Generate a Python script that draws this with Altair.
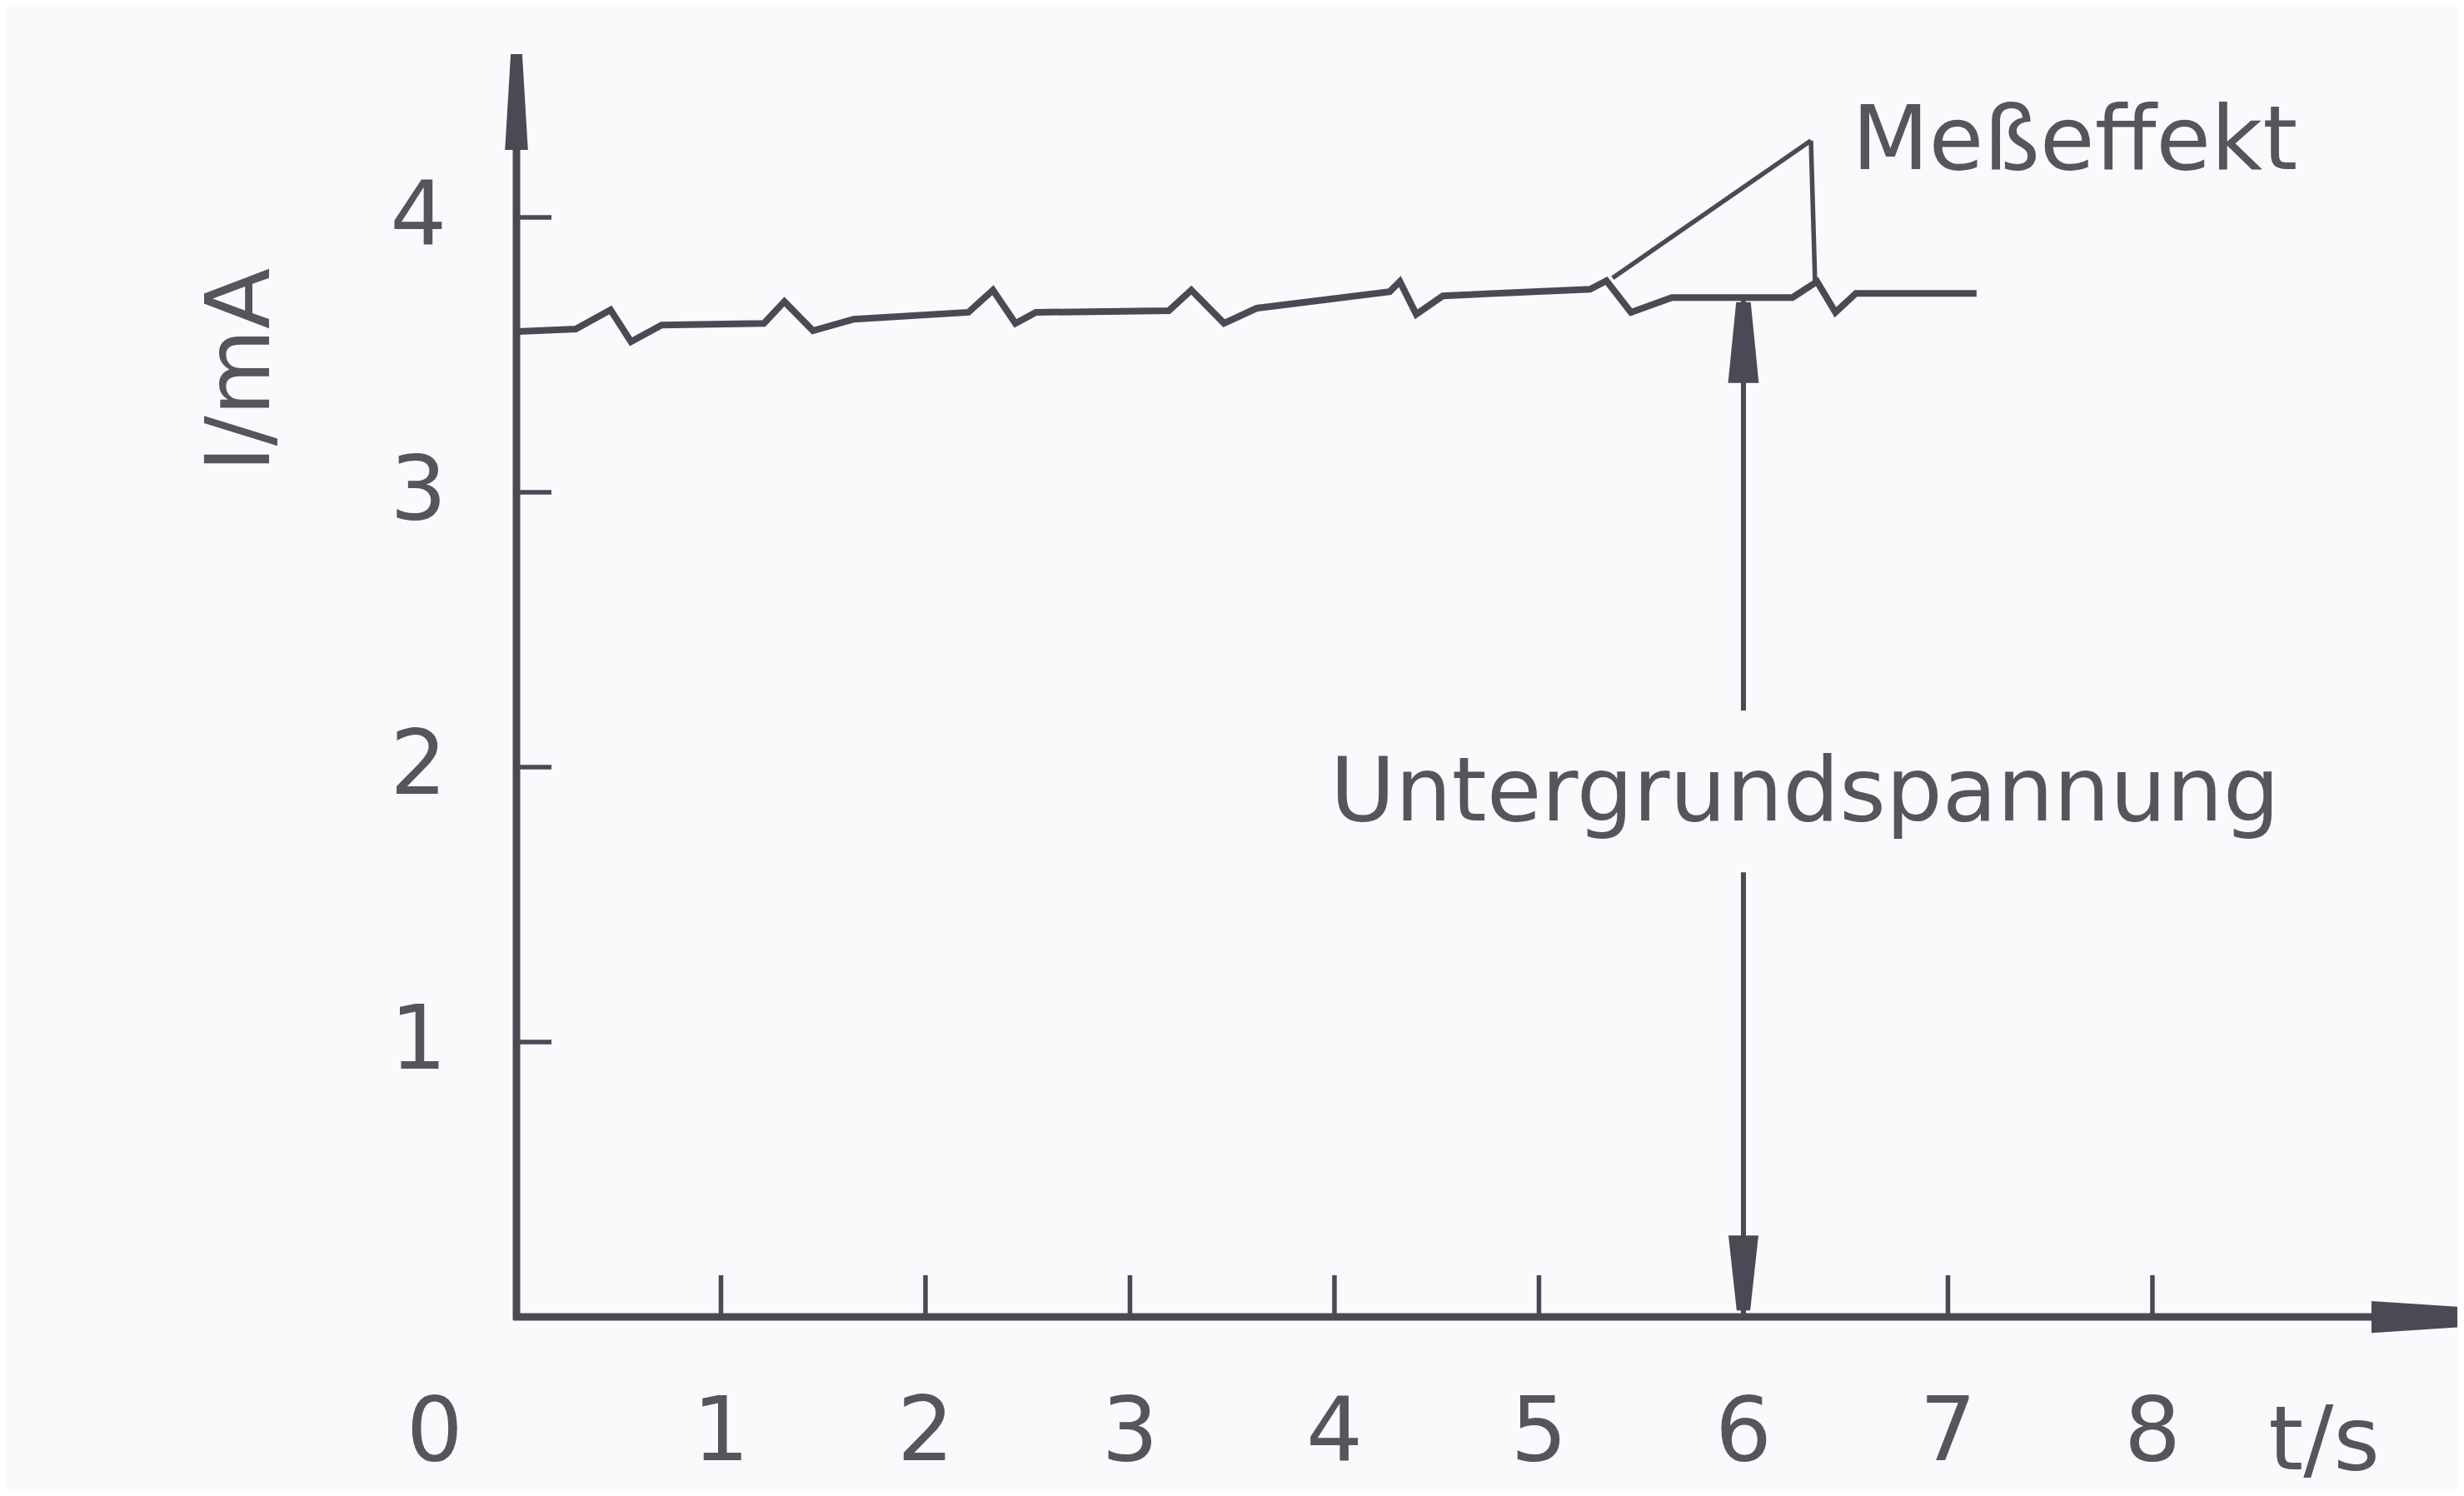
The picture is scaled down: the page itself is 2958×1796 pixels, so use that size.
import altair as alt
import pandas as pd

# ---------------- data ----------------
t_s = [0.01, 0.29, 0.46, 0.56, 0.71, 1.21, 1.31, 1.45, 1.65, 2.21, 2.33, 2.44,
       2.54, 3.19, 3.30, 3.46, 3.62, 4.27, 4.32, 4.40, 4.53, 5.25, 5.33, 5.45,
       5.65, 6.24, 6.36, 6.45, 6.55, 7.14]
i_mA = [3.585, 3.594, 3.664, 3.548, 3.609, 3.615, 3.694, 3.588, 3.630, 3.655,
        3.736, 3.615, 3.655, 3.661, 3.736, 3.615, 3.670, 3.730, 3.767, 3.648,
        3.715, 3.739, 3.770, 3.655, 3.709, 3.709, 3.767, 3.655, 3.724, 3.724]

x_tick_values = [1, 2, 3, 4, 5, 6, 7, 8]
x_tick_labels = ["1", "2", "3", "4", "5", "6", "7", "8"]
y_tick_values = [1, 2, 3, 4]
y_tick_labels = ["1", "2", "3", "4"]
origin_label = "0"
x_title = "t/s"
y_title = "I/mA"
peak_label = "Meßeffekt"
base_label = "Untergrundspannung"

# annotated peaks (t, I) and the apex of the "Meßeffekt" leader lines
peak_t = [5.36, 6.35]
peak_i = [3.78, 3.77]
apex_t, apex_i = 6.33, 4.28
# double arrow "Untergrundspannung"
base_t = 6.0
base_top_i = 3.70

# ---------------- layout / style ----------------
W, H = 2942, 1780
X_DOMAIN = [-2.493, 9.491]
Y_DOMAIN = [-0.627, 4.767]
INK = "#4a4a55"
TEXT = "#55555c"
BG = "#f9fafc"
FONT = "DejaVu Sans"
FS = 107
TICK_X = 0.171   # y-axis tick length in t units
TICK_Y = 0.152   # x-axis tick length in I units

xs = alt.Scale(domain=X_DOMAIN, nice=False, zero=False)
ys = alt.Scale(domain=Y_DOMAIN, nice=False, zero=False)


def X(f):
    return alt.X(f, type="quantitative", scale=xs, axis=None)


def Y(f):
    return alt.Y(f, type="quantitative", scale=ys, axis=None)


# axes lines
axes_df = pd.DataFrame({
    "x": [0.0, -0.015], "x2": [0.0, 9.25],
    "y": [-0.01, 0.0], "y2": [4.40, 0.0],
})
axes = alt.Chart(axes_df).mark_rule(color=INK, strokeWidth=9).encode(
    x=X("x"), x2="x2", y=Y("y"), y2="y2")

# ticks
yt_df = pd.DataFrame({"y": y_tick_values, "x": [0.0] * len(y_tick_values),
                      "x2": [TICK_X] * len(y_tick_values)})
yticks = alt.Chart(yt_df).mark_rule(color=INK, strokeWidth=5.5).encode(
    x=X("x"), x2="x2", y=Y("y"))
xt_df = pd.DataFrame({"x": x_tick_values, "y": [0.0] * len(x_tick_values),
                      "y2": [TICK_Y] * len(x_tick_values)})
xticks = alt.Chart(xt_df).mark_rule(color=INK, strokeWidth=5.5).encode(
    x=X("x"), y=Y("y"), y2="y2")

# data line
line_df = pd.DataFrame({"t": t_s, "i": i_mA})
line = alt.Chart(line_df).mark_line(color=INK, strokeWidth=8).encode(
    x=X("t"), y=Y("i"))

# leader lines for Meßeffekt
lead_df = pd.DataFrame({"x": peak_t, "y": peak_i,
                        "x2": [apex_t] * 2, "y2": [apex_i] * 2})
leaders = alt.Chart(lead_df).mark_rule(color=INK, strokeWidth=5.5).encode(
    x=X("x"), y=Y("y"), x2="x2", y2="y2")

# double arrow shafts
shaft_df = pd.DataFrame({"x": [base_t, base_t], "y": [base_top_i, 1.618],
                         "y2": [2.206, 0.0]})
shafts = alt.Chart(shaft_df).mark_rule(color=INK, strokeWidth=6).encode(
    x=X("x"), y=Y("y"), y2="y2")

# arrowheads
AXIS_UP = "M-0.12,-1 L0.12,-1 L0.24,1 L-0.24,1 Z"
UP = "M-0.18,-1 L0.18,-1 L0.38,1 L-0.38,1 Z"
DOWN = "M-0.4,-1 L0.4,-1 L0.18,1 L-0.18,1 Z"
RIGHT = "M-1,-0.36 L1,-0.23 L1,0.23 L-1,0.36 Z"


def head(x, y, shape, size):
    d = pd.DataFrame({"x": [x], "y": [y]})
    return alt.Chart(d).mark_point(shape=shape, size=size, filled=True,
                                   fill=INK, opacity=1, strokeWidth=0).encode(
        x=X("x"), y=Y("y"))


heads = [
    head(0.0, 4.42, AXIS_UP, 13225),      # y-axis arrow
    head(9.287, 0.0, RIGHT, 11236),       # x-axis arrow
    head(base_t, 3.545, UP, 9409),        # upper head of double arrow
    head(base_t, 0.16, DOWN, 8100),       # lower head of double arrow
]

# texts
xl_df = pd.DataFrame({"x": [-0.40] + x_tick_values,
                      "y": [-0.521] * (len(x_tick_values) + 1),
                      "t": [origin_label] + x_tick_labels})
xlabels = alt.Chart(xl_df).mark_text(font=FONT, fontSize=FS, color=TEXT,
                                     align="center", baseline="alphabetic").encode(
    x=X("x"), y=Y("y"), text="t")

yl_df = pd.DataFrame({"x": [-0.48] * len(y_tick_values), "y": y_tick_values,
                      "t": y_tick_labels})
ylabels = alt.Chart(yl_df).mark_text(font=FONT, fontSize=FS, color=TEXT,
                                     align="center", baseline="middle").encode(
    x=X("x"), y=Y("y"), text="t")


def label(x, y, text, angle=0, align="center", baseline="alphabetic", size=FS):
    d = pd.DataFrame({"x": [x], "y": [y], "t": [text]})
    kw = dict(font=FONT, fontSize=size, color=TEXT, align=align, baseline=baseline)
    if angle:
        kw["angle"] = angle
    return alt.Chart(d).mark_text(**kw).encode(x=X("x"), y=Y("y"), text="t")


texts = [
    label(8.84, -0.555, x_title),
    label(-1.34, 3.445, y_title, angle=270, baseline="middle"),
    label(7.62, 4.176, peak_label),
    label(6.30, 1.806, base_label),
]

chart = alt.layer(axes, yticks, xticks, line, leaders, shafts, *heads,
                  xlabels, ylabels, *texts).properties(
    width=W, height=H, padding=0,
    autosize=alt.AutoSizeParams(type="none"),
    background=BG,
).configure_view(strokeWidth=0)

chart.save("out.html", embed_options={"renderer": "svg", "actions": False})
